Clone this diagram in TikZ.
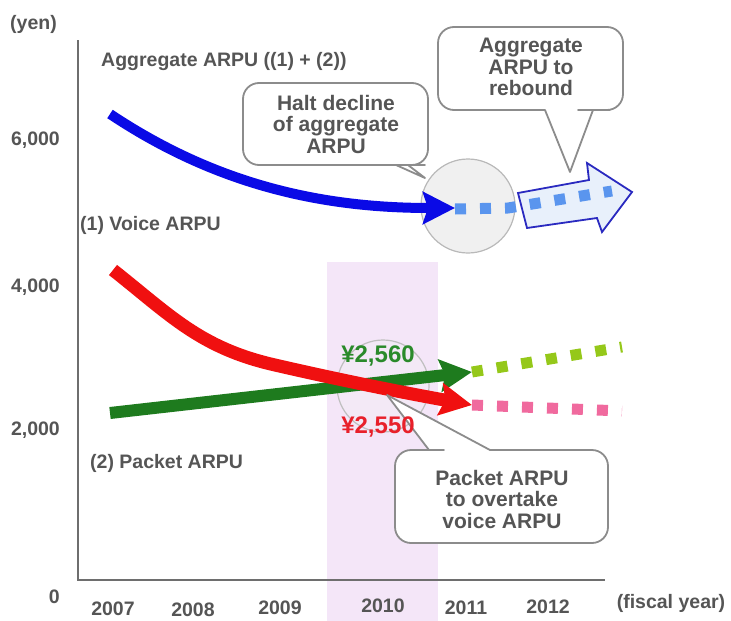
\documentclass[tikz,border=0pt]{standalone}
\usepackage{fontspec}
\setmainfont{Liberation Sans}
\usetikzlibrary{arrows.meta}
\definecolor{txt}{HTML}{555555}
\definecolor{bandc}{HTML}{F4E6F8}
\definecolor{axisc}{HTML}{6E6E6E}
\definecolor{calloutc}{HTML}{8C8C8C}
\definecolor{voiceblue}{HTML}{0A0AE6}
\definecolor{dotblue}{HTML}{5A95EE}
\definecolor{arrowblue}{HTML}{2A2AC0}
\definecolor{arrowfill}{HTML}{E8F0FB}
\definecolor{packred}{HTML}{F01010}
\definecolor{packgreen}{HTML}{1E7B1E}
\definecolor{dotgreen}{HTML}{95C81A}
\definecolor{dotpink}{HTML}{F06A9E}
\definecolor{valgreen}{HTML}{2A8A2A}
\definecolor{valred}{HTML}{E8202A}
\newcommand\lblfont{\fontsize{19.5}{22}\selectfont\bfseries}
\newcommand\callfont{\fontsize{21}{21.5}\selectfont\bfseries}
\newcommand\valfont{\fontsize{24}{26}\selectfont\bfseries}
\tikzset{
  lbl/.style={font=\lblfont, text=txt, inner sep=0pt},
  calltext/.style={font=\callfont, text=txt, align=center, inner sep=0pt},
  callout/.style={draw=calloutc, line width=1.8pt, fill=white, line join=round},
  axisline/.style={draw=axisc, line width=1.6pt},
  dots/.style={line width=11pt, dash pattern=on 11pt off 14pt},
  bighead/.style={-{Stealth[length=32pt, width=32pt, inset=5pt]}},
}
\begin{document}
\begin{tikzpicture}[x=1pt, y=-1pt]
\useasboundingbox (0,0) rectangle (731,621);
% highlighted fiscal 2010 band
\fill[bandc] (327,262) rectangle (438,621);
% axes
\coordinate (ytop) at (78,40);
\coordinate (origin) at (78,580);
\coordinate (xend) at (605,580);
\draw[axisline] (ytop) -- (origin) -- (xend);
% axis labels
\node[lbl, anchor=base west] (yen) at (10,29) {(yen)};
\node[lbl, anchor=base east] (t6) at (60,145) {6,000};
\node[lbl, anchor=base east] (t4) at (60,292) {4,000};
\node[lbl, anchor=base east] (t2) at (60,435) {2,000};
\node[lbl, anchor=base east] (t0) at (60,603) {0};
\node[lbl, anchor=base] (y07) at (113,615) {2007};
\node[lbl, anchor=base] (y08) at (193,616) {2008};
\node[lbl, anchor=base] (y09) at (280,614) {2009};
\node[lbl, anchor=base] (y10) at (383,612) {2010};
\node[lbl, anchor=base] (y11) at (466,614) {2011};
\node[lbl, anchor=base] (y12) at (548,613) {2012};
\node[lbl, anchor=base] (fy) at (671,608) {(fiscal year)};
% series labels
\node[lbl, anchor=base west] (agg) at (101,66) {Aggregate ARPU ((1) + (2))};
\node[lbl, anchor=base west] (voice) at (80,230) {(1) Voice ARPU};
\node[lbl, anchor=base west] (packet) at (90,468) {(2) Packet ARPU};
% circles
\node[circle, draw=gray!55, line width=1.2pt, fill=gray!12, minimum size=94pt, inner sep=0pt] (bigc) at (468,206) {};
\node[circle, draw=gray!50, line width=1.2pt, fill=gray!10, fill opacity=0.3, draw opacity=1, minimum size=92pt, inner sep=0pt] (smallc) at (383,386) {};
% outlined rebound arrow
\draw[draw=arrowblue, line width=1.8pt, fill=arrowfill, line join=miter]
  (518,193) -- (589,180) -- (587,163) -- (632,192) -- (602,232) -- (597,218) -- (527,228) -- cycle;
% voice ARPU
\coordinate (v0) at (110,114);
\coordinate (v1) at (455,208);
\draw[voiceblue, line width=10pt, bighead] (v0) .. controls (215,184) and (320,208) .. (v1);
\coordinate (vd0) at (455,209);
\coordinate (vd1) at (612,191);
\draw[dotblue, dots] (vd0) -- (508,208) -- (vd1);
% packet ARPU (green)
\coordinate (g0) at (110,413);
\coordinate (g1) at (472,372);
\draw[packgreen, line width=12pt, bighead] (g0) -- (g1);
\coordinate (gd1) at (622,347);
\draw[dotgreen, dots] (g1) -- (gd1);
% voice ARPU (red)
\coordinate (r0) at (113,270);
\coordinate (r1) at (472,405);
\draw[packred, line width=13pt, bighead] (r0) .. controls (170,315) and (200,348) .. (275,365) .. controls (340,380) and (400,392) .. (r1);
\coordinate (rd1) at (622,411);
\draw[dotpink, dots] (r1) -- (rd1);
% callouts
\draw[callout, rounded corners=16pt] (335,83) -- (428,83) -- (428,165) -- (409,165) [sharp corners] -- (408,165) -- (425,178) -- (396,165) -- (395,165) [rounded corners=16pt] -- (243,165) -- (243,83) -- cycle;
\node[calltext] (halt) at (336,124) {Halt decline\\of aggregate\\ARPU};
\draw[callout, rounded corners=16pt] (530,27) -- (623,27) -- (623,110) -- (594,110) [sharp corners] -- (593,110) -- (570,172) -- (545,110) -- (544,110) [rounded corners=16pt] -- (438,110) -- (438,27) -- cycle;
\node[calltext] (rebound) at (531,67) {Aggregate\\ARPU to\\rebound};
\draw[callout, rounded corners=16pt] (500,543) -- (395,543) -- (395,450) -- (428,450) [sharp corners] -- (429,450) -- (387,395) -- (490,450) -- (491,450) [rounded corners=16pt] -- (608,450) -- (608,543) -- cycle;
\node[calltext] (overtake) at (502,499) {Packet ARPU\\to overtake\\voice ARPU};
% values
\node[font=\valfont, text=valgreen, inner sep=0pt] (v2560) at (378,356) {¥2,560};
\node[font=\valfont, text=valred, inner sep=0pt] (v2550) at (378,427) {¥2,550};
\end{tikzpicture}
\end{document}
